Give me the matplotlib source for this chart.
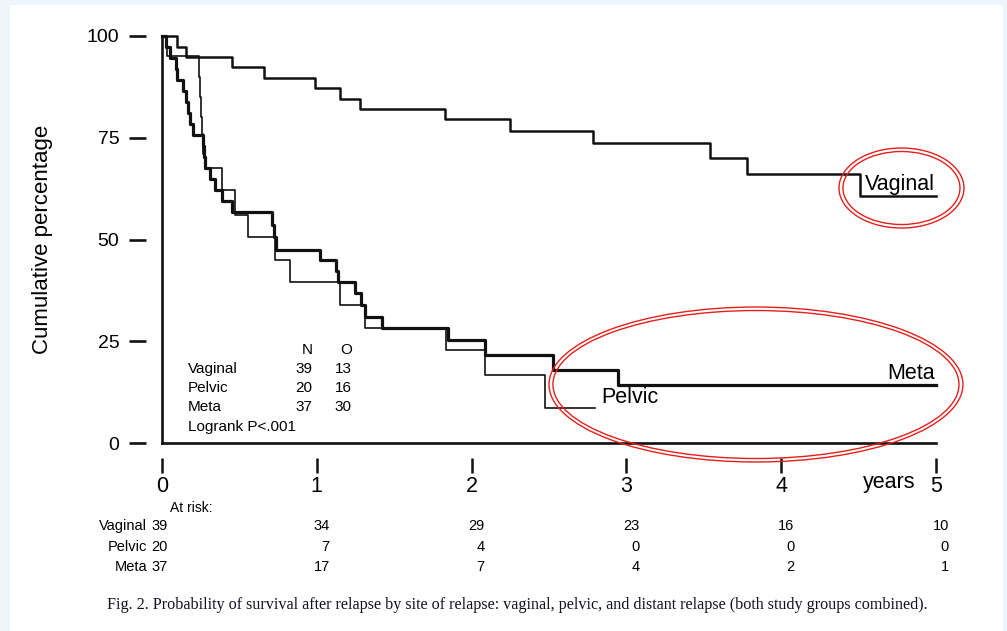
import matplotlib
matplotlib.use("Agg")
import matplotlib.pyplot as plt
from matplotlib.patches import Ellipse, Rectangle

# survival curves (years, cumulative percentage after each drop)
vag_t = [0.097, 0.155, 0.452, 0.659, 0.988, 1.150, 1.279, 1.828, 2.248, 2.784, 3.540, 3.779, 4.509]
vag_s = [97.4, 94.9, 92.3, 89.7, 87.2, 84.6, 82.1, 79.5, 76.7, 73.8, 70.0, 66.1, 60.7]
vag_end = 5.0

pel_t = [0.032, 0.239, 0.245, 0.252, 0.258, 0.268, 0.278, 0.388, 0.472, 0.556, 0.730,
         0.827, 1.150, 1.311, 1.835, 2.087, 2.474]
pel_s = [95.0, 90.0, 85.0, 80.0, 76.0, 71.0, 67.5, 62.2, 56.0, 50.6, 45.0,
         39.6, 33.9, 28.2, 22.8, 16.7, 8.6]
pel_end = 2.797

met_t = [0.026, 0.052, 0.090, 0.097, 0.136, 0.155, 0.168, 0.181, 0.200, 0.265, 0.271,
         0.278, 0.310, 0.342, 0.388, 0.452, 0.711, 0.724, 0.736, 1.021, 1.124, 1.137,
         1.247, 1.286, 1.311, 1.421, 1.848, 2.087, 2.526, 2.946]
met_s = [97.3, 94.6, 91.9, 89.2, 86.5, 83.8, 81.1, 78.4, 75.7, 73.0, 70.3,
         67.6, 64.9, 62.2, 59.5, 56.8, 53.5, 50.5, 47.5, 45.0, 42.3, 39.6,
         36.9, 33.9, 31.0, 28.2, 25.3, 21.5, 17.9, 14.3]
met_end = 5.0

groups = ["Vaginal", "Pelvic", "Meta"]
n_pat = [39, 20, 37]
n_obs = [13, 16, 30]

risk_years = [0, 1, 2, 3, 4, 5]
risk_vag = [39, 34, 29, 23, 16, 10]
risk_pel = [20, 7, 4, 0, 0, 0]
risk_met = [37, 17, 7, 4, 2, 1]

x_ticks = [0, 1, 2, 3, 4, 5]
y_ticks = [0, 25, 50, 75, 100]

caption = ("Fig. 2. Probability of survival after relapse by site of relapse: vaginal, "
           "pelvic, and distant relapse (both study groups combined).")

plt.rcParams['font.family'] = ['Liberation Sans', 'DejaVu Sans']

fig = plt.figure(figsize=(10.07, 6.31), dpi=100, facecolor='#edf4fa')
fig.patches.append(Rectangle((10 / 1007, 0), 993 / 1007, 626 / 631,
                             transform=fig.transFigure, facecolor='white',
                             edgecolor='none', zorder=-1))

ax = fig.add_axes([162 / 1007, 1 - 443 / 631, 774 / 1007, 407 / 631])
ax.set_zorder(2)
ax.set_facecolor('none')
ax.set_xlim(0, 5)
ax.set_ylim(0, 100)


def km(t, s, end):
    xs = [0] + list(t) + [end]
    ys = [100] + list(s) + [s[-1]]
    return xs, ys


ink = '#111111'
x, y = km(vag_t, vag_s, vag_end)
ax.step(x, y, where='post', color=ink, lw=1.8, clip_on=False, zorder=3)
x, y = km(pel_t, pel_s, pel_end)
ax.step(x, y, where='post', color=ink, lw=1.2, clip_on=False, zorder=3)
x, y = km(met_t, met_s, met_end)
ax.step(x, y, where='post', color=ink, lw=2.3, clip_on=False, zorder=4)

# axis lines
ax.axvline(0, color=ink, lw=1.9, clip_on=False, zorder=5)
ax.axhline(0, color=ink, lw=1.9, clip_on=False, zorder=5)
for s in ax.spines.values():
    s.set_visible(False)
ax.spines['left'].set_position(('outward', 11.5))
ax.spines['bottom'].set_position(('outward', 10.8))

ax.set_xticks(x_ticks)
ax.set_xticklabels([str(v) for v in x_ticks])
ax.set_yticks(y_ticks)
ax.set_yticklabels([str(v) for v in y_ticks])
ax.tick_params(axis='y', direction='out', length=12.2, width=1.9, pad=7, labelsize=14, color=ink)
ax.tick_params(axis='x', direction='out', length=10.8, width=1.8, pad=2, labelsize=15.5, color=ink)
ax.set_ylabel("Cumulative percentage", fontsize=16)
ax.yaxis.set_label_coords(-0.141, 0.5)

ax.text(4.87, -9.8, "years", fontsize=15.5, ha='right', va='center', clip_on=False)

# curve labels
ax.text(4.995, 63.6, "Vaginal", fontsize=15.5, ha='right', va='center')
ax.text(4.995, 17.0, "Meta", fontsize=15.5, ha='right', va='center')
ax.text(2.836, 11.3, "Pelvic", fontsize=15.5, ha='left', va='center')

# inset summary
ax.text(0.937, 22.85, "N", fontsize=11, ha='center', va='center')
ax.text(1.189, 22.85, "O", fontsize=11, ha='center', va='center')
for i, g in enumerate(groups):
    yy = 18.2 - i * 4.67
    ax.text(0.168, yy, g, fontsize=11, ha='left', va='center')
    ax.text(0.917, yy, str(n_pat[i]), fontsize=11, ha='center', va='center')
    ax.text(1.169, yy, str(n_obs[i]), fontsize=11, ha='center', va='center')
ax.text(0.168, 3.93, "Logrank P<.001", fontsize=11, ha='left', va='center')

# red highlight ellipses
red = '#e3201c'
for w, h in [(0.8075, 19.66), (0.756, 17.94)]:
    ax.add_patch(Ellipse((4.777, 62.65), w, h, fill=False, edgecolor=red, lw=1.0, clip_on=False, zorder=6))
for w, h in [(2.674, 38.08), (2.623, 36.36)]:
    ax.add_patch(Ellipse((3.837, 14.37), w, h, fill=False, edgecolor=red, lw=1.0, clip_on=False, zorder=6))

# numbers at risk
narrow = ['Liberation Sans Narrow', 'Liberation Sans', 'DejaVu Sans']
ax.text(0.05, (443 - 508) / 4.07, "At risk:", fontsize=10, family=narrow, ha='left', va='center', clip_on=False)
rows = [risk_vag, risk_pel, risk_met]
row_px = [526, 547, 567]
for g, vals, py in zip(groups, rows, row_px):
    yy = (443 - py) / 4.07
    ax.text(-0.095, yy, g, fontsize=10.5, family=narrow, ha='right', va='center', clip_on=False)
    for yr, v in zip(risk_years, vals):
        xx = 0.035 if yr == 0 else yr + 0.084
        ax.text(xx, yy, str(v), fontsize=10.5, family=narrow, ha='right', va='center', clip_on=False)

fig.text(107 / 1007, 1 - 605 / 631, caption, fontsize=11.6, family=['Liberation Serif', 'DejaVu Serif'],
         ha='left', va='center', color='#111122')

fig.savefig("out.png", dpi=100, facecolor=fig.get_facecolor())
